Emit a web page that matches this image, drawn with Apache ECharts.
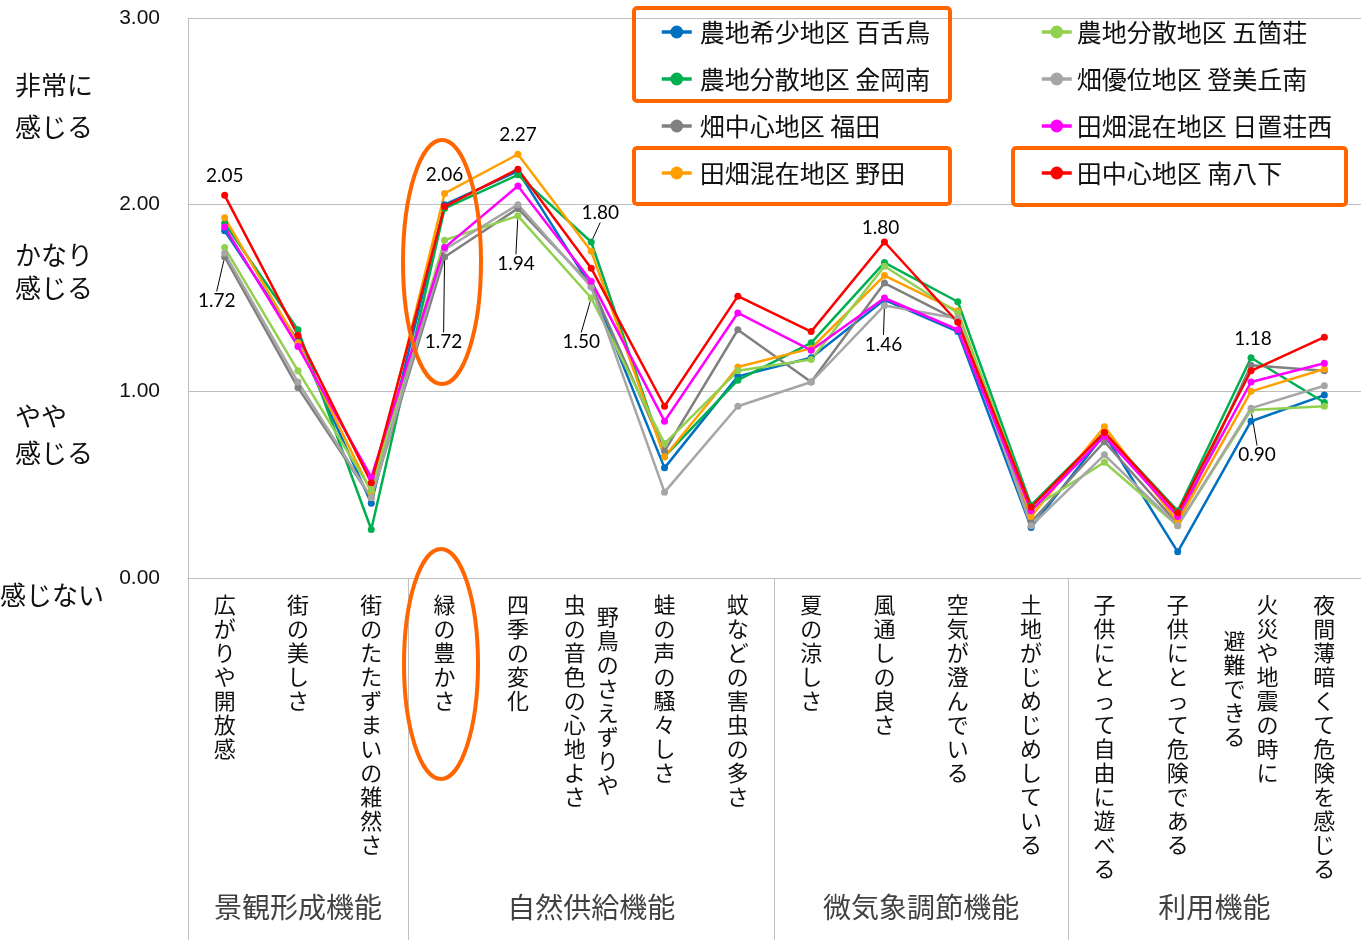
<!DOCTYPE html>
<html>
<head>
<meta charset="utf-8">
<script src="https://cdn.jsdelivr.net/npm/echarts@6/dist/echarts.min.js"></script>
<style>
html,body{margin:0;padding:0;background:#fff;}
#chart{width:1361px;height:940px;}
</style>
</head>
<body>
<div id="chart"></div>
<script>
// ---- data ----
const categories = [
  '広がりや開放感', '街の美しさ', '街のたたずまいの雑然さ',
  '緑の豊かさ', '四季の変化', '野鳥のさえずりや\n虫の音色の心地よさ', '蛙の声の騒々しさ', '蚊などの害虫の多さ',
  '夏の涼しさ', '風通しの良さ', '空気が澄んでいる', '土地がじめじめしている',
  '子供にとって自由に遊べる', '子供にとって危険である', '火災や地震の時に\n避難できる', '夜間薄暗くて危険を感じる'
];
const groupNames = ['景観形成機能', '自然供給機能', '微気象調節機能', '利用機能'];
const groupSizes = [3, 5, 4, 4];

const seriesNames = [
  '農地希少地区 百舌鳥', '農地分散地区 金岡南', '畑中心地区 福田', '田畑混在地区 野田',
  '農地分散地区 五箇荘', '畑優位地区 登美丘南', '田畑混在地区 日置荘西', '田中心地区 南八下'
];
const mozu      = [1.86, 1.27, 0.40, 2.00, 2.18, 1.56, 0.59, 1.08, 1.18, 1.49, 1.32, 0.27, 0.77, 0.14, 0.84, 0.98];
const kanaokaM  = [1.90, 1.33, 0.26, 1.98, 2.16, 1.80, 0.65, 1.06, 1.26, 1.69, 1.48, 0.39, 0.78, 0.36, 1.18, 0.94];
const fukuda    = [1.72, 1.02, 0.43, 1.72, 1.98, 1.57, 0.68, 1.33, 1.05, 1.58, 1.38, 0.30, 0.73, 0.29, 1.14, 1.11];
const noda      = [1.93, 1.26, 0.46, 2.06, 2.27, 1.75, 0.65, 1.13, 1.23, 1.62, 1.43, 0.33, 0.81, 0.30, 1.00, 1.12];
const gokasho   = [1.77, 1.11, 0.47, 1.81, 1.94, 1.50, 0.72, 1.11, 1.17, 1.67, 1.42, 0.37, 0.62, 0.28, 0.90, 0.92];
const tomiokaM  = [1.74, 1.05, 0.43, 1.76, 2.00, 1.56, 0.46, 0.92, 1.05, 1.46, 1.39, 0.28, 0.66, 0.28, 0.91, 1.03];
const hiokiNishi= [1.88, 1.24, 0.54, 1.77, 2.10, 1.59, 0.84, 1.42, 1.22, 1.50, 1.33, 0.36, 0.76, 0.33, 1.05, 1.15];
const minamiHK  = [2.05, 1.30, 0.51, 1.99, 2.19, 1.66, 0.92, 1.51, 1.32, 1.80, 1.37, 0.38, 0.78, 0.35, 1.11, 1.29];
const seriesValues = [mozu, kanaokaM, fukuda, noda, gokasho, tomiokaM, hiokiNishi, minamiHK];

const yTicks = [0, 1, 2, 3];
const yDescriptors = [['非常に', '感じる'], ['かなり', '感じる'], ['やや', '感じる'], ['感じない']];

// ---- styles ----
const colors = ['#0070C0', '#00B050', '#808080', '#FFA000', '#92D050', '#A6A6A6', '#FF00FF', '#FF0000'];
const CJK = '"Noto Sans CJK JP", "Noto Sans", sans-serif';
const ORANGE = '#FF6600';
// value labels: series index, category index, label offset
const pointLabels = [
  {s: 7, i: 0, dx: 0, dy: 2},
  {s: 2, i: 0, dx: -8, dy: 65, guide: true},
  {s: 3, i: 3, dx: 0, dy: 2},
  {s: 2, i: 3, dx: -1, dy: 106, guide: true},
  {s: 3, i: 4, dx: 0, dy: 2},
  {s: 4, i: 4, dx: -2, dy: 69, guide: true},
  {s: 1, i: 5, dx: 9, dy: -8, guide: true},
  {s: 4, i: 5, dx: -10, dy: 65, guide: true},
  {s: 7, i: 9, dx: -4, dy: 7},
  {s: 5, i: 9, dx: -1, dy: 60, guide: true},
  {s: 1, i: 14, dx: 2, dy: 2},
  {s: 4, i: 14, dx: 6, dy: 66, guide: true}
];
function findLabel(s, i) { return pointLabels.find(p => p.s === s && p.i === i); }

// vertical (tategaki) label: columns separated by \n, first column rightmost, columns centred
function verticalLabel(text) {
  const cols = text.split('\n').map(c => Array.from(c));
  const maxLen = Math.max(...cols.map(c => c.length));
  const rows = 2 * maxLen;
  const grid = [];
  for (let r = 0; r < rows; r++) grid.push(cols.map(() => '\u3000'));
  cols.forEach((chars, ci) => {
    const off = maxLen - chars.length;
    chars.forEach((ch, k) => { grid[off + 2 * k][ci] = ch; });
  });
  return grid.map(r => r.slice().reverse().join('\u2002')).join('\n');
}

const chart = echarts.init(document.getElementById('chart'), null, {renderer: 'canvas'});

const lineSeries = seriesNames.map((name, s) => ({
  name: name,
  type: 'line',
  xAxisIndex: 0, yAxisIndex: 0,
  data: seriesValues[s].map((v, i) => {
    const lab = findLabel(s, i);
    if (!lab) return v;
    return {value: v, label: {show: true}, labelLine: {show: !!lab.guide}};
  }),
  color: colors[s],
  symbol: 'circle',
  symbolSize: 7,
  lineStyle: {width: 2.5, color: colors[s]},
  itemStyle: {color: colors[s]},
  emphasis: {disabled: true},
  label: {
    show: false, position: 'top', distance: 8,
    formatter: p => Number(p.value).toFixed(2),
    fontFamily: 'Lato, "Open Sans", sans-serif', fontSize: 19, color: '#000'
  },
  labelLine: {show: false, lineStyle: {color: '#000', width: 1}},
  labelLayout: function (params) {
    const lab = findLabel(params.seriesIndex, params.dataIndex);
    return lab ? {dx: lab.dx, dy: lab.dy} : {};
  },
  z: 3
}));

// group label positions and separators in the lower band
const groupStarts = [];
groupSizes.reduce((acc, n) => { groupStarts.push(acc); return acc + n; }, 0);
const groupData = groupNames.map((g, k) => ({value: [groupStarts[k] + groupSizes[k] / 2, 0.09], name: g}));

const groupSeries = {
  type: 'scatter',
  xAxisIndex: 1, yAxisIndex: 1,
  symbolSize: 0,
  data: groupData,
  silent: true,
  label: {
    show: true, position: 'inside', formatter: p => p.name,
    fontFamily: CJK, fontSize: 28, color: '#111'
  },
  markLine: {
    silent: true, symbol: 'none',
    label: {show: false},
    lineStyle: {color: '#bfbfbf', width: 1, type: 'solid'},
    data: groupStarts.map(x => ({xAxis: x}))
  }
};

// text descriptors and annotation shapes
const descPos = [[15, [85, 127]], [15, [255, 288]], [15, [416, 453]], [0, [595]]];
const graphics = [];
yDescriptors.forEach((lines, k) => {
  lines.forEach((t, j) => {
    graphics.push({
      type: 'text', x: descPos[k][0], y: descPos[k][1][j],
      style: {text: t, fontFamily: CJK, fontSize: 26, fill: '#111', verticalAlign: 'middle'}
    });
  });
});
const boxStyle = {fill: 'none', stroke: ORANGE, lineWidth: 4};
graphics.push(
  {type: 'rect', shape: {x: 634, y: 8, width: 316, height: 93, r: 3}, style: boxStyle, z: 10},
  {type: 'rect', shape: {x: 634, y: 148, width: 316, height: 56, r: 3}, style: boxStyle, z: 10},
  {type: 'rect', shape: {x: 1013, y: 148, width: 333, height: 57, r: 3}, style: boxStyle, z: 10},
  {type: 'ellipse', shape: {cx: 442, cy: 262, rx: 39, ry: 122}, style: boxStyle, z: 10},
  {type: 'ellipse', shape: {cx: 441, cy: 664, rx: 37, ry: 115}, style: boxStyle, z: 10}
);

const legendCommon = {
  orient: 'vertical',
  top: 14,
  itemWidth: 30,
  itemHeight: 16,
  itemGap: 21,
  selectedMode: false,
  lineStyle: {width: 3.5},
  textStyle: {fontFamily: CJK, fontSize: 25, lineHeight: 26, color: '#111', padding: [0, 0, 0, 3]}
};

const option = {
  animation: false,
  backgroundColor: '#ffffff',
  grid: [
    {left: 188, right: 0, top: 18, bottom: 362},
    {left: 188, right: 0, top: 578, bottom: 0}
  ],
  legend: [
    Object.assign({}, legendCommon, {left: 655, data: seriesNames.slice(0, 4)}),
    Object.assign({}, legendCommon, {left: 1035, data: seriesNames.slice(4),
      textStyle: Object.assign({}, legendCommon.textStyle, {padding: [0, 0, 0, 0]})})
  ],
  xAxis: [
    {
      type: 'category', gridIndex: 0, data: categories, boundaryGap: true,
      axisLine: {show: true, lineStyle: {color: '#bfbfbf', width: 1}},
      axisTick: {show: false},
      axisLabel: {
        interval: 0, margin: 21, formatter: verticalLabel,
        fontFamily: CJK, fontSize: 22, lineHeight: 12, color: '#111', verticalAlign: 'top'
      },
      splitLine: {show: false}
    },
    {type: 'value', gridIndex: 1, min: 0, max: categories.length, show: false}
  ],
  yAxis: [
    {
      type: 'value', gridIndex: 0, min: yTicks[0], max: yTicks[yTicks.length - 1], interval: 1,
      axisLine: {show: true, lineStyle: {color: '#bfbfbf', width: 1}},
      axisTick: {show: false},
      splitLine: {show: true, lineStyle: {color: '#bfbfbf', width: 1}},
      axisLabel: {formatter: v => v.toFixed(2), fontFamily: '"Liberation Sans", Arial, sans-serif',
        fontSize: 21, color: '#111', margin: 28}
    },
    {type: 'value', gridIndex: 1, min: 0, max: 1, show: false}
  ],
  graphic: graphics,
  series: lineSeries.concat([groupSeries])
};
chart.setOption(option);
</script>
</body>
</html>
